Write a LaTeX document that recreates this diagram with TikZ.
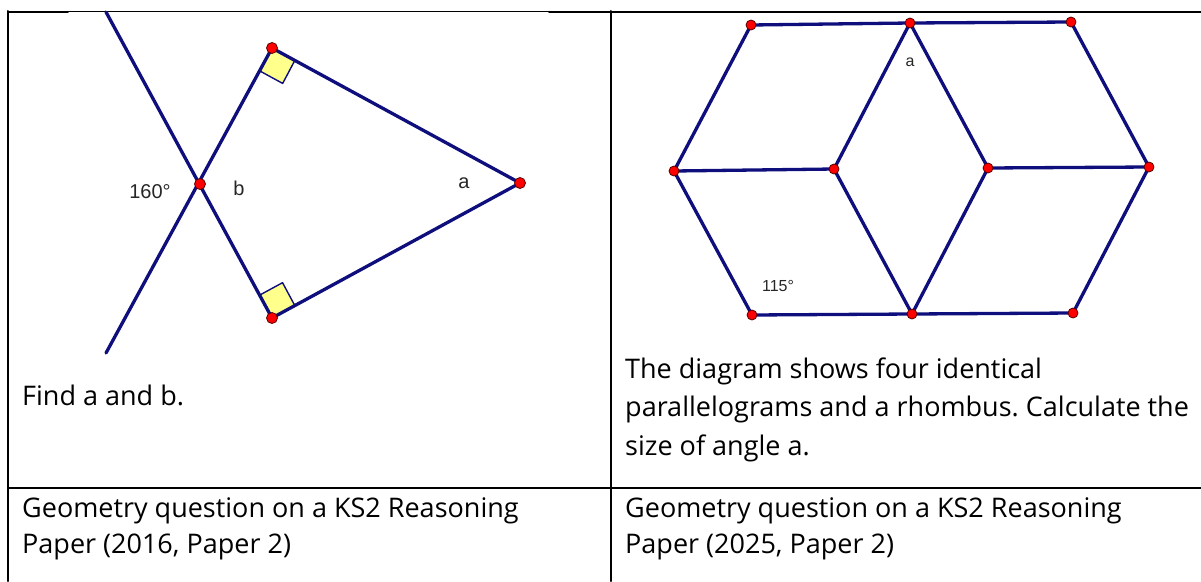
\documentclass[tikz,border=0pt]{standalone}
\usepackage{fontspec}
\setmainfont{Open Sans}
\newfontfamily\geofont{Liberation Sans}
\usetikzlibrary{calc}
\definecolor{navy}{RGB}{14,14,124}
\definecolor{sqyellow}{RGB}{255,255,140}
\frenchspacing

\begin{document}
\begin{tikzpicture}[x=1pt, y=-1pt, line join=round, line cap=round,
	seg/.style={line width=3.3pt, navy},
	dot/.style={fill=red, draw=red!35!black, line width=0.8pt},
	sq/.style={fill=sqyellow, draw=navy, line width=1.4pt},
	lbl/.style={font=\geofont\fontsize{20}{20}\selectfont, text=black!85, inner sep=0pt},
	lbs/.style={font=\geofont\fontsize{16}{16}\selectfont, text=black!85, inner sep=0pt},
	txt/.style={anchor=base west, align=left, inner sep=0pt, font=\fontsize{27}{38.5}\selectfont}]
	
	\useasboundingbox (0,0) rectangle (1201,581);
	
	% Khung bảng
	\draw[line width=2pt] (8,12) -- (68,12) (549,12) -- (1201,12);
	\draw[line width=1pt] (68,11.5) -- (549,11.5);
	\draw[line width=2pt] (8,11) -- (8,581) (611,11) -- (611,581) (8,488) -- (1201,488);
	
	% Hình 1: điểm
	\foreach \name/\x/\y in {
		L1/106/12, L2/106/353, X/200/184,
		T/272/48, B/272/318, A/520/183
	}{
		\coordinate (\name) at (\x,\y);
	}
	% Góc vuông
	\foreach \v in {T,B}{
		\coordinate (\v1) at ($(\v)!26pt!(A)$);
		\coordinate (\v2) at ($(\v)!26pt!(X)$);
		\draw[sq] (\v) -- (\v1) -- ($(\v1)+(\v2)-(\v)$) -- (\v2) -- cycle;
	}
	% Cạnh
	\draw[seg] (L1) -- (B) -- (A) -- (T) -- (L2);
	\foreach \p in {X,T,B,A}{
		\draw[dot] (\p) circle (5.5pt);
	}
	\node[lbl] (deg160) at (150,192) {160°};
	\node[lbl] (angb) at (239,188) {b};
	\node[lbl] (anga) at (464,183) {a};
	
	% Hình 2: điểm
	\foreach \name/\x/\y in {
		P1/751/25, P2/910/23, P3/1071/22,
		Q1/674/171, Q2/834/169, Q3/988/168, Q4/1149/167,
		R1/752/315, R2/912/314, R3/1073/313
	}{
		\coordinate (\name) at (\x,\y);
	}
	% Cạnh
	\draw[seg] (P1) -- (P2) -- (P3) -- (Q4) -- (R3) -- (R2) -- (R1) -- (Q1) -- cycle
	(Q1) -- (Q2) -- (P2) -- (Q3) -- (Q4)
	(Q2) -- (R2) -- (Q3);
	\foreach \p in {P1,P2,P3,Q1,Q2,Q3,Q4,R1,R2,R3}{
		\draw[dot] (\p) circle (5pt);
	}
	\node[lbs] (anga2) at (910,62) {a};
	\node[lbs] (deg115) at (778,286) {115°};
	
	% Chữ (mốc ở dòng cuối)
	\node[txt] (ask1) at (22,405) {Find a and b.};
	\node[txt] (ask2) at (625,455) {The diagram shows four identical\\parallelograms and a rhombus. Calculate the\\size of angle a.};
	\node[txt] (src1) at (22,553) {Geometry question on a KS2 Reasoning\\[-3pt]Paper (2016, Paper 2)};
	\node[txt] (src2) at (625,553) {Geometry question on a KS2 Reasoning\\[-3pt]Paper (2025, Paper 2)};
	
\end{tikzpicture}
\end{document}
